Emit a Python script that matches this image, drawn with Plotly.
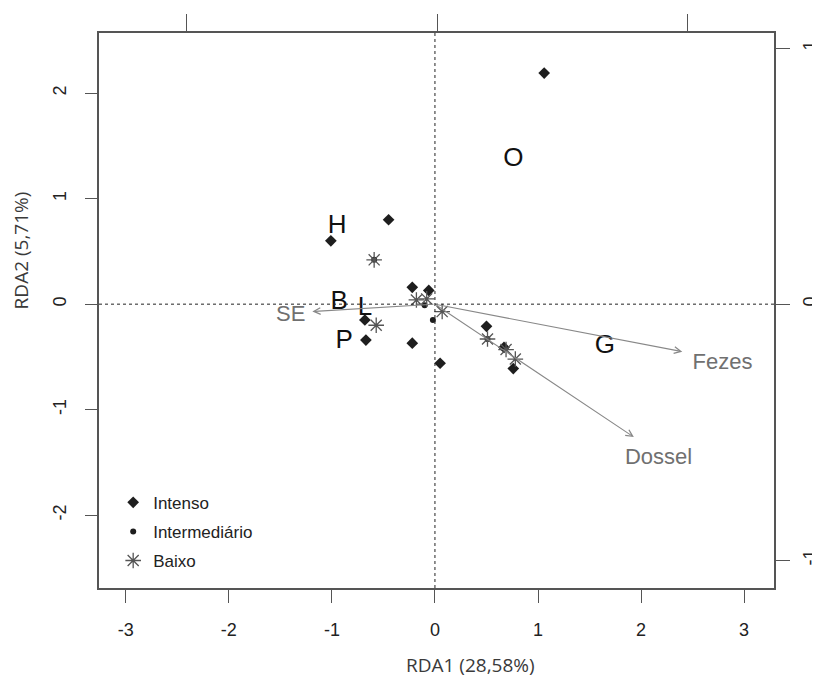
import plotly.graph_objects as go

# ---- data ----
intenso_x = [1.06, -0.45, -1.01, -0.22, -0.06, -0.68, -0.67, -0.22, 0.05, 0.50, 0.67, 0.76]
intenso_y = [2.19, 0.80, 0.60, 0.16, 0.13, -0.15, -0.34, -0.37, -0.56, -0.21, -0.41, -0.61]
interm_x = [-0.59, -0.10, -0.02, 0.51]
interm_y = [0.42, -0.01, -0.15, -0.33]
baixo_x = [-0.59, -0.18, -0.08, 0.07, -0.57, 0.51, 0.69, 0.78]
baixo_y = [0.42, 0.04, 0.05, -0.07, -0.20, -0.33, -0.43, -0.52]

species = ["H", "O", "B", "L", "P", "G"]
species_x = [-0.95, 0.76, -0.93, -0.68, -0.88, 1.65]
species_y = [0.74, 1.37, 0.02, -0.04, -0.35, -0.40]

env_names = ["Fezes", "Dossel", "SE"]
env_x = [2.40, 1.93, -1.19]
env_y = [-0.45, -1.26, -0.07]
env_lab_x = [2.79, 2.17, -1.40]
env_lab_y = [-0.56, -1.46, -0.11]

x_ticks = [-3, -2, -1, 0, 1, 2, 3]
x_tick_text = ["-3", "-2", "-1", "0", "1", "2", "3"]
y_ticks = [-2, -1, 0, 1, 2]
y_tick_text = ["-2", "-1", "0", "1", "2"]
top_ticks = [-1, 0, 1]
right_ticks = [-1, 0, 1]
right_tick_text = ["-1", "0", "1"]

tick_font = dict(family="Liberation Sans, Arial", size=18, color="#222222")
axis_col = "#555555"

fig = go.Figure()

fig.add_trace(go.Scatter(x=intenso_x, y=intenso_y, mode="markers", name="Intenso", legendgroup="a",
                         marker=dict(symbol="diamond", size=9, color="#1e1e1e")))
fig.add_trace(go.Scatter(x=interm_x, y=interm_y, mode="markers", name="Intermediário", legendgroup="b",
                         marker=dict(symbol="circle", size=6, color="#1e1e1e")))
fig.add_trace(go.Scatter(x=baixo_x, y=baixo_y, mode="markers", name="Baixo", legendgroup="c",
                         marker=dict(symbol="asterisk-open", size=13, color="#555555",
                                     line=dict(width=1.3, color="#555555"))))

# species letters
fig.add_trace(go.Scatter(x=species_x, y=species_y, mode="text", text=species, showlegend=False,
                         textfont=dict(family="Liberation Sans, Arial", size=26, color="#111111"),
                         hoverinfo="skip"))
# env labels
fig.add_trace(go.Scatter(x=env_lab_x, y=env_lab_y, mode="text", text=env_names, showlegend=False,
                         textfont=dict(family="Liberation Sans, Arial", size=22, color="#707070"),
                         hoverinfo="skip"))

# env arrows
for ex, ey in zip(env_x, env_y):
    fig.add_annotation(x=ex, y=ey, ax=0, ay=0, xref="x", yref="y", axref="x", ayref="y",
                       showarrow=True, arrowhead=5, arrowsize=1.2, arrowwidth=1.1,
                       arrowcolor="#888888", text="")

# dotted reference lines
fig.add_vline(x=0, line=dict(color="#222222", width=1, dash="dot"))
fig.add_hline(y=0, line=dict(color="#222222", width=1, dash="dot"))

# invisible trace for secondary axes
fig.add_trace(go.Scatter(x=[], y=[], xaxis="x2", yaxis="y2", showlegend=False))

fig.update_layout(
    width=820, height=682,
    margin=dict(l=91, r=54, t=25, b=102, autoexpand=False),
    paper_bgcolor="white", plot_bgcolor="white",
    showlegend=True,
    legend=dict(x=0.021, y=0.186, xanchor="left", yanchor="top", bgcolor="rgba(0,0,0,0)",
                font=dict(family="Liberation Sans, Arial", size=17, color="#222222"),
                itemsizing="trace", traceorder="grouped", tracegroupgap=4),
    xaxis=dict(range=[-3.26, 3.29], tickvals=x_ticks, ticktext=x_tick_text, ticks="outside", ticklen=13,
               tickcolor=axis_col, tickwidth=1.3, showline=True, linecolor=axis_col, linewidth=1.5,
               mirror=False, showgrid=False, zeroline=False, tickfont=tick_font,
               ticklabelstandoff=12, automargin=False),
    yaxis=dict(range=[-2.69, 2.57], tickvals=y_ticks, ticktext=y_tick_text, ticks="outside", ticklen=12,
               tickcolor=axis_col, tickwidth=1.3, showline=True, linecolor=axis_col, linewidth=1.5,
               showgrid=False, zeroline=False, tickangle=-90, tickfont=tick_font,
               ticklabelstandoff=12, automargin=False),
    xaxis2=dict(overlaying="x", side="top", anchor="y", range=[-1.347, 1.343], tickvals=top_ticks,
                ticks="outside", ticklen=17, tickcolor=axis_col, tickwidth=1.3, showline=True,
                linecolor=axis_col, linewidth=1.5, showgrid=False, zeroline=False,
                showticklabels=False, automargin=False),
    yaxis2=dict(overlaying="y", side="right", anchor="x", range=[-1.109, 1.059], tickvals=right_ticks,
                ticktext=right_tick_text,
                ticks="outside", ticklen=14, tickcolor=axis_col, tickwidth=1.3, showline=True,
                linecolor=axis_col, linewidth=1.5, showgrid=False, zeroline=False,
                tickangle=-90, tickfont=tick_font, ticklabelstandoff=5, automargin=False),
)

fig.add_annotation(text="RDA1 (28,58%)", xref="paper", yref="paper", x=0.551, y=-0.139,
                   showarrow=False, xanchor="center", yanchor="middle",
                   font=dict(family="Open Sans", size=19, color="#3a3a3a"))
fig.add_annotation(text="RDA2 (5,71%)", xref="paper", yref="paper", x=-0.115, y=0.609,
                   showarrow=False, xanchor="center", yanchor="middle", textangle=-90,
                   font=dict(family="Open Sans", size=19, color="#3a3a3a"))

fig.write_html("out.html")
